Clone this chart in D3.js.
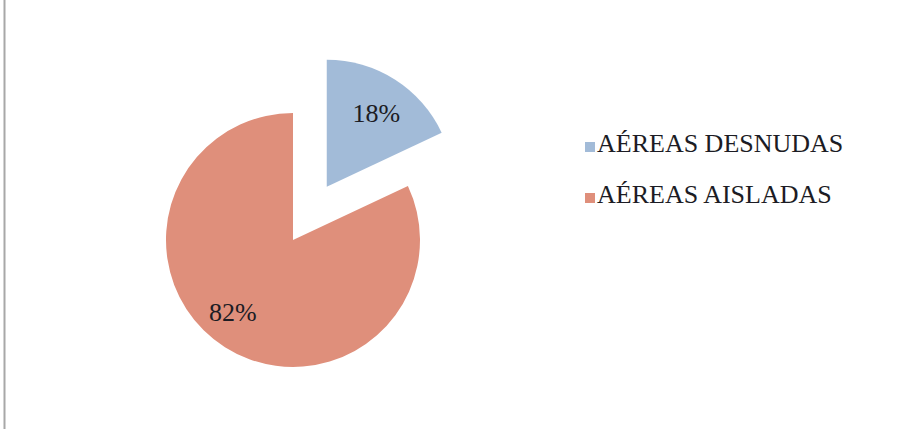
<!DOCTYPE html>
<html>
<head>
<meta charset="utf-8">
<script src="https://cdn.jsdelivr.net/npm/d3@7/dist/d3.min.js"></script>
<style>
  html, body { margin: 0; padding: 0; background: #ffffff; }
  svg { display: block; }
</style>
</head>
<body>
<svg id="chart" width="915" height="429"></svg>
<script>
// Share of conductor types
const categories = ["AÉREAS DESNUDAS", "AÉREAS AISLADAS"];
const values = [18, 82];
const colors = ["#a2bbd8", "#df8f7b"];

const FONT = '"Liberation Serif"';
const svg = d3.select("#chart");
const W = 915, H = 429;

// frame edge on the left
svg.append("line")
  .attr("x1", 4.5).attr("x2", 4.5)
  .attr("y1", 0).attr("y2", H)
  .attr("stroke", "#a8a8a8").attr("stroke-width", 2);

const cx = 293, cy = 240, r = 127;
const explode = [63, 0];
const labelR = [0.7, 0.74];
const labelShift = [1.5, 7.4]; // degrees, best-fit nudge of the data labels

const pie = d3.pie().sort(null).value(d => d)(values);
const arc = d3.arc().innerRadius(0).outerRadius(r);

const g = svg.append("g").attr("transform", `translate(${cx},${cy})`);

const slices = g.selectAll("g.slice")
  .data(pie)
  .enter().append("g")
  .attr("class", "slice")
  .attr("transform", (d, i) => {
    const a = (d.startAngle + d.endAngle) / 2;
    return `translate(${Math.sin(a) * explode[i]},${-Math.cos(a) * explode[i]})`;
  });

slices.append("path")
  .attr("d", arc)
  .attr("fill", (d, i) => colors[i]);

slices.append("text")
  .attr("transform", (d, i) => {
    const a = (d.startAngle + d.endAngle) / 2 + labelShift[i] * Math.PI / 180;
    const rr = r * labelR[i];
    return `translate(${Math.sin(a) * rr},${-Math.cos(a) * rr})`;
  })
  .attr("text-anchor", "middle")
  .attr("dy", "0.33em")
  .style("font-family", FONT)
  .style("font-size", "26px")
  .style("fill", "#1c1c24")
  .text(d => d.value + "%");

// legend
const legend = svg.append("g").attr("transform", "translate(585,142)");
const items = legend.selectAll("g")
  .data(categories)
  .enter().append("g")
  .attr("transform", (d, i) => `translate(0,${i * 51})`);

items.append("rect")
  .attr("width", 10).attr("height", 10)
  .attr("fill", (d, i) => colors[i]);

items.append("text")
  .attr("x", 12).attr("y", 10)
  .style("font-family", FONT)
  .style("font-size", "26px")
  .style("fill", "#1c1c24")
  .text(d => d);
</script>
</body>
</html>
